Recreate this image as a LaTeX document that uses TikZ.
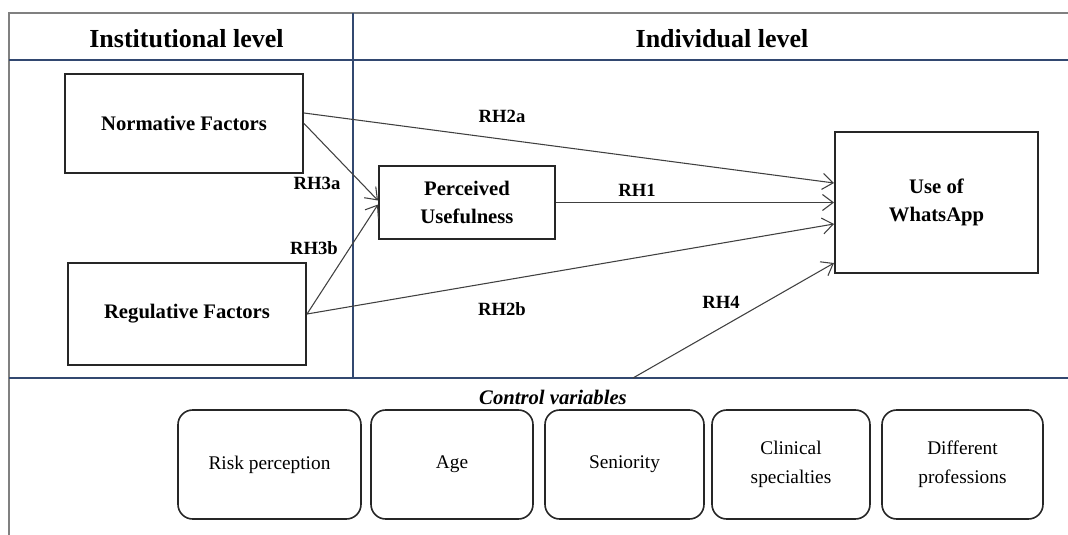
\documentclass[tikz,border=0pt]{standalone}
\usepackage{fontspec}
\setmainfont{Liberation Serif}
\usetikzlibrary{calc,arrows.meta}

\definecolor{framegray}{RGB}{128,128,128}
\definecolor{levelblue}{RGB}{50,72,112}

\begin{document}
\begin{tikzpicture}[x=0.75pt, y=-0.75pt,
    factor/.style={draw=black!85, line width=1.5pt, align=center, inner sep=0pt,
      font=\fontsize{15.5}{20.5}\selectfont\bfseries},
    control/.style={draw=black!85, line width=1.2pt, rounded corners=11pt, align=center,
      inner sep=0pt, minimum height=81.75pt, font=\fontsize{14.5}{22}\selectfont},
    hyp/.style={font=\fontsize{14}{16}\selectfont\bfseries},
    level/.style={font=\fontsize{19.5}{23}\selectfont\bfseries},
    link/.style={draw=black!75, line width=0.8pt, -{Straight Barb[length=8pt,width=12pt]}}]
    \useasboundingbox (0,0) rectangle (1068,535);

    % frame
    \draw[framegray, line width=1pt] (9,535) -- (9,13) -- (1068,13);
    \draw[levelblue, line width=1.5pt] (9,60) -- (1068,60);
    \draw[levelblue, line width=1.5pt] (9,378) -- (1068,378);
    \draw[levelblue, line width=1.5pt] (353,13) -- (353,378);

    % level titles
    \node[level] (inst) at (186.5, 39) {Institutional level};
    \node[level] (indiv) at (722, 39) {Individual level};

    % factors
    \node[factor, minimum width=178.5pt, minimum height=74.25pt] (norm) at (184, 123.5) {Normative Factors};
    \node[factor, minimum width=178.5pt, minimum height=76.5pt] (reg) at (187, 314) {Regulative Factors};
    \node[factor, minimum width=132pt, minimum height=54.75pt] (perc) at (467, 202.5) {Perceived\\Usefulness};
    \node[factor, minimum width=152.25pt, minimum height=105.75pt] (use) at (936.5, 202.5) {Use of\\WhatsApp};

    % hypotheses
    \draw[link] ($(norm.east)+(0,-10.5)$) -- ($(use.west)+(0,-19.5)$);
    \draw[link] (norm.east) -- ($(perc.west)+(0,-2)$);
    \draw[link] (reg.east) -- ($(perc.west)+(0,2)$);
    \draw[link] (perc.east) -- (use.west);
    \draw[link] (reg.east) -- ($(use.west)+(0,21.5)$);
    \coordinate (ctrl) at (633, 378);
    \draw[link] (ctrl) -- ($(use.west)+(0,60.5)$);

    \node[hyp] (rh2a) at (502, 116) {RH2a};
    \node[hyp] (rh3a) at (317, 183) {RH3a};
    \node[hyp] (rh3b) at (314, 248) {RH3b};
    \node[hyp] (rh1) at (637, 190) {RH1};
    \node[hyp] (rh2b) at (502, 309) {RH2b};
    \node[hyp] (rh4) at (721, 302) {RH4};

    % control variables
    \node[font=\fontsize{15.5}{18}\selectfont\bfseries\itshape] (ctrltitle) at (553, 397) {Control variables};
    \node[control, minimum width=137.25pt] (risk) at (269.5, 464.5) {Risk perception};
    \node[control, minimum width=121.5pt] (age) at (452, 464.5) {Age};
    \node[control, minimum width=119.25pt] (senior) at (624.5, 464.5) {Seniority};
    \node[control, minimum width=118.5pt] (clin) at (791, 464.5) {Clinical\\specialties};
    \node[control, minimum width=120.75pt] (prof) at (962.5, 464.5) {Different\\professions};
\end{tikzpicture}
\end{document}
